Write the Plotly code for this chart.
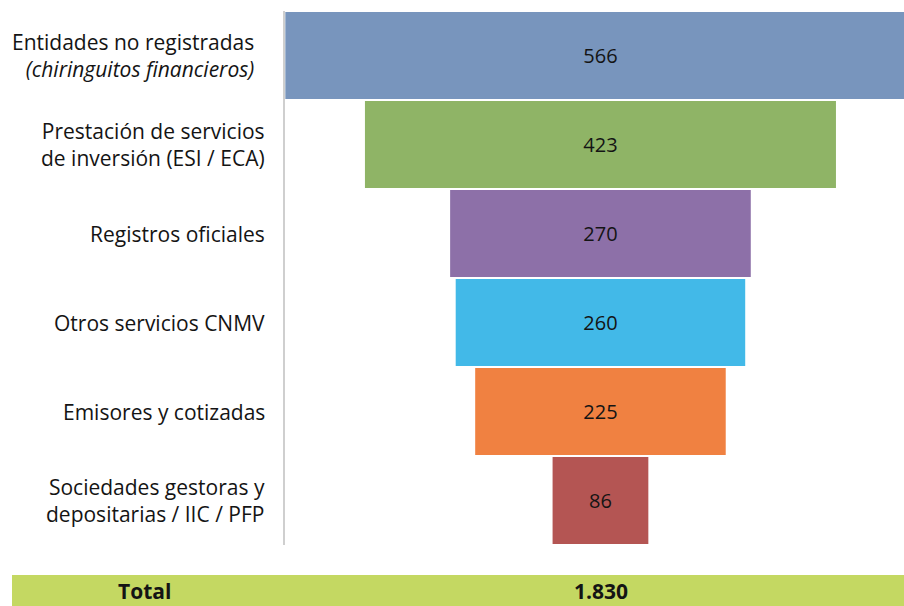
import plotly.graph_objects as go

categories = [
    "Entidades no registradas<br><i>(chiringuitos financieros)</i>",
    "Prestación de servicios<br>de inversión (ESI / ECA)",
    "Registros oficiales",
    "Otros servicios CNMV",
    "Emisores y cotizadas",
    "Sociedades gestoras y<br>depositarias / IIC / PFP",
]
values = [566, 423, 270, 260, 225, 86]
colors = ["#7895bd", "#8fb466", "#8d70a8", "#42b9e8", "#f08141", "#b45553"]
total_label = "Total"
total_value = "1.830"

FONT = "Open Sans"
TXT = "#141414"

fig = go.Figure(go.Funnel(
    y=categories,
    x=values,
    marker=dict(color=colors, line=dict(width=0)),
    textinfo="value",
    textposition="inside",
    insidetextanchor="middle",
    textfont=dict(family=FONT, size=20, color=TXT),
    connector=dict(visible=False),
    hoverinfo="skip",
))

annotations = []
for i, c in enumerate(categories):
    annotations.append(dict(
        x=0, xref="paper", y=c, yref="y",
        text=c, showarrow=False, xanchor="right", align="right",
        xshift=-29 if i == 0 else -18,
        font=dict(family=FONT, size=21, color=TXT),
    ))

fig.update_layout(
    width=904, height=606,
    margin=dict(l=285, r=0, t=11, b=61),
    paper_bgcolor="white", plot_bgcolor="white",
    showlegend=False,
    funnelgap=0.022,
    xaxis=dict(range=[-283.3, 272.6], visible=False, fixedrange=True),
    yaxis=dict(showticklabels=False, showline=True, linecolor="#cfcfcf",
               linewidth=2, showgrid=False, ticks="", zeroline=False,
               fixedrange=True),
    shapes=[dict(type="rect", xref="paper", yref="paper",
                 x0=-273 / 619, x1=1.0, y0=-61 / 534, y1=-30 / 534,
                 fillcolor="#c4d862", line=dict(width=0), layer="below")],
    annotations=annotations + [
        dict(x=(144 - 285) / 619, xref="paper", y=-45.5 / 534, yref="paper",
             text="<b>" + total_label + "</b>", showarrow=False,
             xanchor="center", yanchor="middle",
             font=dict(family=FONT, size=21, color=TXT)),
        dict(x=(601 - 285) / 619, xref="paper", y=-45.5 / 534, yref="paper",
             text="<b>" + total_value + "</b>", showarrow=False,
             xanchor="center", yanchor="middle",
             font=dict(family=FONT, size=21, color=TXT)),
    ],
)

fig.write_html(
    "out.html",
    config={"displayModeBar": False},
    post_script="document.body.style.margin='0';document.body.style.overflow='hidden';",
)
